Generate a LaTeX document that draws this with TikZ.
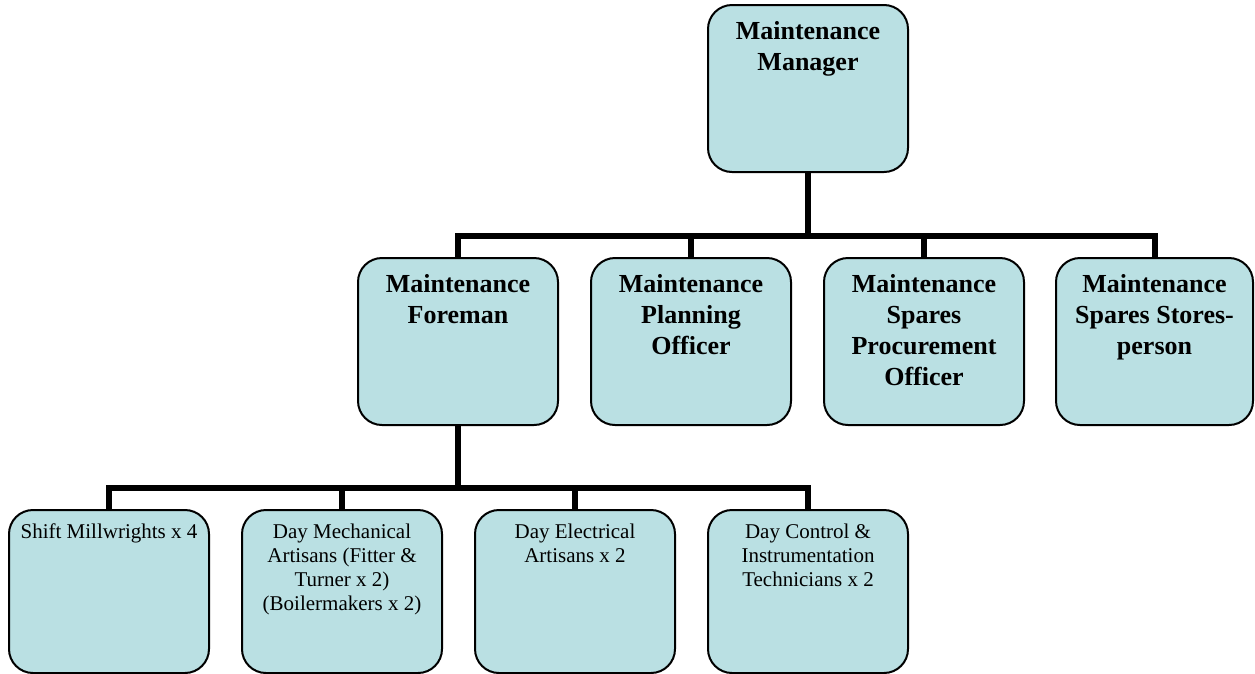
\documentclass[tikz,border=0pt]{standalone}
\usepackage{fontspec}
\setmainfont{Liberation Serif}
\definecolor{boxfill}{HTML}{BAE0E3}
\tikzset{
  box/.style={draw=black, line width=2pt, fill=boxfill, rounded corners=24pt,
    minimum width=200pt, minimum height=167pt, inner sep=0pt},
  lowbox/.style={box, minimum height=163pt},
  bigtext/.style={anchor=north, align=center, inner sep=0pt,
    font=\fontsize{26}{31}\selectfont\bfseries},
  smalltext/.style={anchor=north, align=center, inner sep=0pt,
    font=\fontsize{21}{24}\selectfont},
  link/.style={line width=6pt}
}
\begin{document}
\begin{tikzpicture}[x=1pt,y=-1pt]
\useasboundingbox (0,0) rectangle (1255,673);
% top level
\node[box] (mgr) at (808,88.5) {};
% second level
\node[box] (fore) at (458,341.5) {};
\node[box] (plan) at (691,341.5) {};
\node[box] (proc) at (924,341.5) {};
\node[box, minimum width=197pt] (store) at (1154.5,341.5) {};
% third level
\node[lowbox] (mill) at (109,591.5) {};
\node[lowbox] (mech) at (342,591.5) {};
\node[lowbox] (elec) at (575,591.5) {};
\node[lowbox] (inst) at (808,591.5) {};
% labels
\node[bigtext] (tmgr) at ([yshift=-17pt]mgr.north) {Maintenance\\Manager};
\node[bigtext] (tfore) at ([yshift=-17pt]fore.north) {Maintenance\\Foreman};
\node[bigtext] (tplan) at ([yshift=-17pt]plan.north) {Maintenance\\Planning\\Officer};
\node[bigtext] (tproc) at ([yshift=-17pt]proc.north) {Maintenance\\Spares\\Procurement\\Officer};
\node[bigtext] (tstore) at ([yshift=-17pt]store.north) {Maintenance\\Spares Stores-\\person};
\node[smalltext] (tmill) at ([yshift=-15pt]mill.north) {Shift Millwrights x 4};
\node[smalltext] (tmech) at ([yshift=-15pt]mech.north) {Day Mechanical\\Artisans (Fitter \&\\Turner x 2)\\(Boilermakers x 2)};
\node[smalltext] (telec) at ([yshift=-15pt]elec.north) {Day Electrical\\Artisans x 2};
\node[smalltext] (tinst) at ([yshift=-15pt]inst.north) {Day Control \&\\Instrumentation\\Technicians x 2};
% connectors
\coordinate (busA) at (808,236);
\coordinate (busB) at (458,488);
\draw[link] (mgr.south) -- (busA);
\draw[link] (fore.north) |- (busA);
\draw[link] (plan.north) -- (plan.north |- busA);
\draw[link] (proc.north) -- (proc.north |- busA);
\draw[link] (store.north) |- (busA);
\draw[link] (fore.south) -- (busB);
\draw[link] (mill.north) |- (busB);
\draw[link] (mech.north) -- (mech.north |- busB);
\draw[link] (elec.north) -- (elec.north |- busB);
\draw[link] (inst.north) |- (busB);
\end{tikzpicture}
\end{document}
